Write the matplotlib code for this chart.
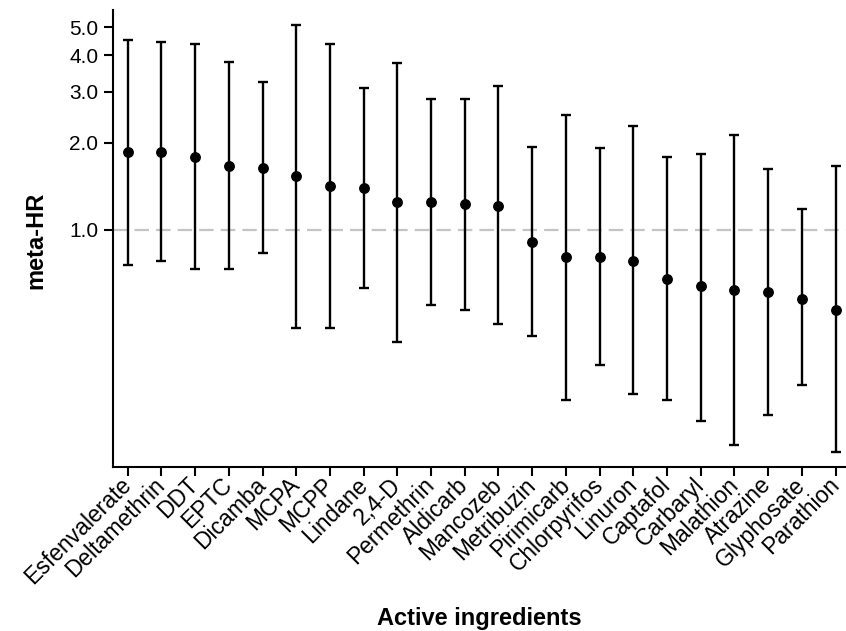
import matplotlib
matplotlib.use('Agg')
import matplotlib.pyplot as plt
import matplotlib.ticker as mticker
import numpy as np

plt.rcParams['font.family'] = ['Liberation Sans', 'DejaVu Sans']

# data
ingredients = ['Esfenvalerate', 'Deltamethrin', 'DDT', 'EPTC', 'Dicamba', 'MCPA', 'MCPP',
               'Lindane', '2,4-D', 'Permethrin', 'Aldicarb', 'Mancozeb', 'Metribuzin',
               'Pirimicarb', 'Chlorpyrifos', 'Linuron', 'Captafol', 'Carbaryl', 'Malathion',
               'Atrazine', 'Glyphosate', 'Parathion']
hr = [1.86, 1.86, 1.79, 1.66, 1.63, 1.54, 1.42, 1.40, 1.25, 1.25, 1.23, 1.21, 0.91,
      0.81, 0.81, 0.78, 0.68, 0.64, 0.62, 0.61, 0.58, 0.53]
ci_low = [0.757, 0.782, 0.732, 0.732, 0.831, 0.461, 0.461, 0.633, 0.410, 0.551, 0.530,
          0.473, 0.431, 0.260, 0.341, 0.271, 0.260, 0.220, 0.181, 0.230, 0.291, 0.171]
ci_high = [4.53, 4.44, 4.39, 3.80, 3.23, 5.11, 4.38, 3.09, 3.77, 2.84, 2.84, 3.14, 1.94,
           2.49, 1.91, 2.29, 1.78, 1.83, 2.12, 1.62, 1.18, 1.66]
yticks = [1.0, 2.0, 3.0, 4.0, 5.0]

hr = np.array(hr)
x = np.arange(len(ingredients))
yerr = [hr - np.array(ci_low), np.array(ci_high) - hr]

fig = plt.figure(figsize=(8.46, 6.31), dpi=100)
ax = fig.add_axes([0.1336, 0.26, 0.866, 0.724])

ax.axhline(1.0, color='#c4c4c4', lw=1.6, dashes=(6.5, 3.2), zorder=1)
ax.errorbar(x, hr, yerr=yerr, fmt='o', color='black', ms=6.8, elinewidth=1.7,
            capsize=3.4, capthick=1.7, zorder=3)

ax.set_yscale('log')
ax.set_ylim(0.1524, 5.73)
ax.set_xlim(-0.436, 21.3)
ax.yaxis.set_major_locator(mticker.FixedLocator(yticks))
ax.yaxis.set_minor_locator(mticker.NullLocator())
ax.set_yticklabels(['%.1f' % t for t in yticks])
ax.set_xticks(x)
ax.set_xticklabels(ingredients, rotation=45, ha='right', va='center', rotation_mode='anchor')

for s in ['top', 'right']:
    ax.spines[s].set_visible(False)
for s in ['left', 'bottom']:
    ax.spines[s].set_linewidth(1.5)
ax.tick_params(axis='both', length=6.5, width=1.5, colors='black')
ax.tick_params(axis='y', labelsize=15, pad=4)
ax.tick_params(axis='x', labelsize=16.5, pad=4)

ax.set_ylabel('meta-HR', fontsize=17, fontweight='bold')
ax.yaxis.set_label_coords(-0.090, 0.495)
ax.set_xlabel('Active ingredients', fontsize=17, fontweight='bold')
ax.xaxis.set_label_coords(0.5, -0.306)

fig.savefig('out.png', dpi=100)
